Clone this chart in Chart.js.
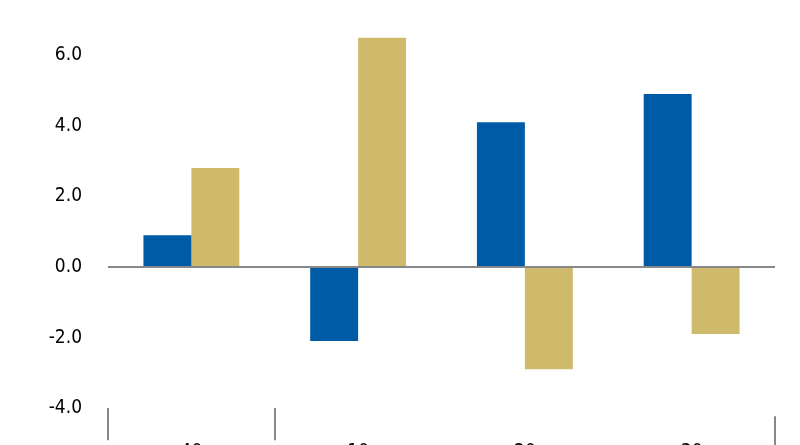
<!DOCTYPE html>
<html>
<head>
<script src="https://cdn.jsdelivr.net/npm/chart.js@4"></script>
<style>
  html, body { margin: 0; padding: 0; background: #fff; }
  #wrap { width: 800px; height: 445px; overflow: hidden; }
</style>
</head>
<body>
<div id="wrap"><canvas id="chart" width="800" height="463"></canvas></div>
<script>
const categories = ['40', '10', '20', '30'];
const blueValues = [0.9, -2.1, 4.1, 4.9];
const goldValues = [2.8, 6.5, -2.9, -1.9];
const yTicks = [-4, -2, 0, 2, 4, 6];
const dividerIndexes = [0, 1];

const font = { family: "'Liberation Sans Narrow', 'DejaVu Sans Condensed', 'Roboto Condensed', sans-serif", size: 19 };

// right-hand divider tick below the axis
const rightDivider = {
    id: 'rightDivider',
    afterDraw(chart) {
        const { ctx, chartArea } = chart;
        ctx.save();
        ctx.strokeStyle = '#888';
        ctx.lineWidth = 2;
        ctx.beginPath();
        ctx.moveTo(chartArea.right, chartArea.bottom + 8);
        ctx.lineTo(chartArea.right, chartArea.bottom + 40);
        ctx.stroke();
        ctx.restore();
    }
};

new Chart(document.getElementById('chart'), {
    type: 'bar',
    data: {
        labels: categories,
        datasets: [
            { data: blueValues, backgroundColor: '#005ba6', categoryPercentage: 0.575, barPercentage: 1 },
            { data: goldValues, backgroundColor: '#cfb96b', categoryPercentage: 0.575, barPercentage: 1 }
        ]
    },
    options: {
        responsive: false,
        animation: false,
        layout: { padding: { top: 12, right: 25, left: 0, bottom: 0 } },
        plugins: { legend: { display: false }, tooltip: { enabled: false } },
        scales: {
            x: {
                offset: true,
                border: { display: false },
                grid: {
                    offset: true,
                    drawOnChartArea: false,
                    tickLength: 32,
                    lineWidth: 2,
                    color: ctx => dividerIndexes.includes(ctx.index) ? '#888' : 'rgba(0,0,0,0)'
                },
                ticks: { color: '#000', font: font, padding: 0 }
            },
            y: {
                min: -4,
                max: 6.5,
                border: { display: false },
                afterFit: scale => { scale.width = 108; },
                afterBuildTicks: scale => { scale.ticks = yTicks.map(v => ({ value: v })); },
                grid: {
                    drawTicks: false,
                    lineWidth: 2,
                    color: ctx => ctx.tick && ctx.tick.value === 0 ? '#888' : 'rgba(0,0,0,0)'
                },
                ticks: {
                    autoSkip: false,
                    color: '#000',
                    font: font,
                    padding: 26,
                    callback: v => v.toFixed(1)
                }
            }
        }
    },
    plugins: [rightDivider]
});
</script>
</body>
</html>
